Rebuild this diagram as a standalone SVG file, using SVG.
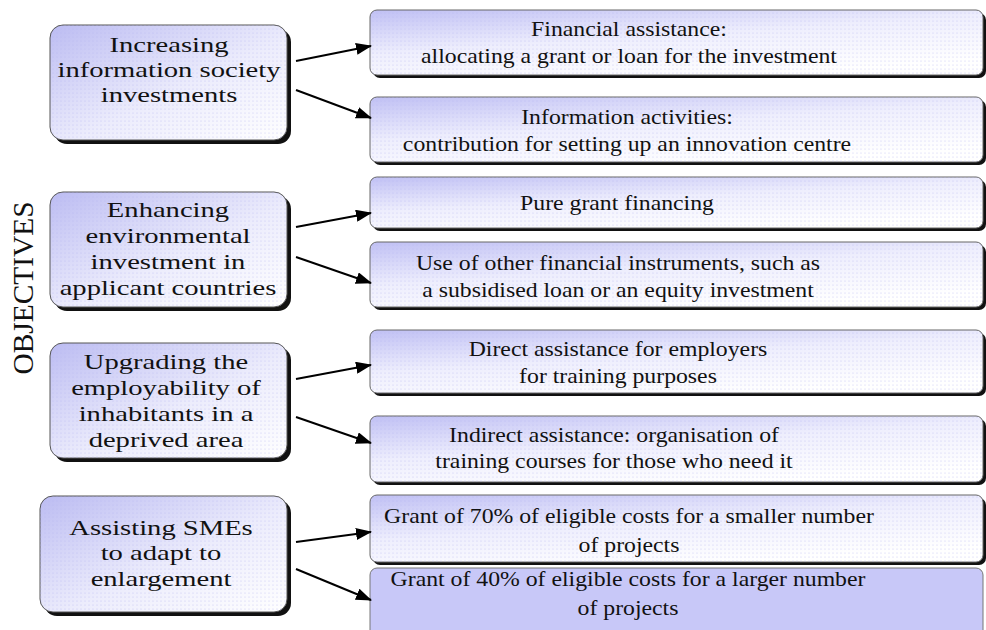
<svg xmlns="http://www.w3.org/2000/svg" width="986" height="630" viewBox="0 0 986 630">
<style>
  .t { font-family: "Liberation Serif", "Times New Roman", serif; font-size: 22px; fill: #111; text-anchor: middle; }
  .lbox { fill: url(#gradL); stroke: #555; stroke-width: 1; }
  .rbox { fill: url(#gradR); stroke: #666; stroke-width: 1; }
  .dots { fill: url(#dots); stroke: none; }
  .shadow { fill: #111; }
  .conn { stroke: #000; stroke-width: 2; fill: none; marker-end: url(#arr); }
</style>
<defs>
  <linearGradient id="gradL" x1="0" y1="0" x2="1" y2="1">
    <stop offset="0" stop-color="#bcbcf2"/>
    <stop offset="0.55" stop-color="#ececfc"/>
    <stop offset="1" stop-color="#ffffff"/>
  </linearGradient>
  <linearGradient id="gradR" x1="0" y1="0" x2="0.6" y2="1">
    <stop offset="0" stop-color="#c0c0f4"/>
    <stop offset="0.5" stop-color="#eeeefd"/>
    <stop offset="1" stop-color="#ffffff"/>
  </linearGradient>
  <pattern id="dots" width="4" height="4" patternUnits="userSpaceOnUse">
    <circle cx="1" cy="1" r="0.6" fill="#b4b4ee" opacity="0.7"/>
  </pattern>
  <marker id="arr" markerWidth="16" markerHeight="12" refX="15" refY="6" orient="auto" markerUnits="userSpaceOnUse">
    <path d="M0,0 L16,6 L0,12 Z" fill="#000"/>
  </marker>
</defs>
<rect width="986" height="630" fill="#ffffff"/>

<text class="t" transform="translate(33,288) rotate(-90)" x="0" y="0" style="font-size:30px" textLength="173" lengthAdjust="spacingAndGlyphs">OBJECTIVES</text>

<!-- Left objective nodes -->
<g id="obj1">
  <rect class="shadow" x="54" y="29" width="237" height="115" rx="13"/>
  <rect class="lbox" x="50" y="25" width="237" height="115" rx="13"/>
  <rect class="dots" x="50" y="25" width="237" height="115" rx="13"/>
  <g transform="translate(169,0) scale(1.3,1)">
    <text class="t" x="0" y="52">Increasing</text>
    <text class="t" x="0" y="77">information society</text>
    <text class="t" x="0" y="102">investments</text>
  </g>
</g>
<g id="obj2">
  <rect class="shadow" x="54" y="196" width="237" height="115" rx="13"/>
  <rect class="lbox" x="50" y="192" width="237" height="115" rx="13"/>
  <rect class="dots" x="50" y="192" width="237" height="115" rx="13"/>
  <g transform="translate(168,0) scale(1.3,1)">
    <text class="t" x="0" y="217">Enhancing</text>
    <text class="t" x="0" y="243">environmental</text>
    <text class="t" x="0" y="269">investment in</text>
    <text class="t" x="0" y="295">applicant countries</text>
  </g>
</g>
<g id="obj3">
  <rect class="shadow" x="54" y="347" width="237" height="115" rx="13"/>
  <rect class="lbox" x="50" y="343" width="237" height="115" rx="13"/>
  <rect class="dots" x="50" y="343" width="237" height="115" rx="13"/>
  <g transform="translate(166,0) scale(1.3,1)">
    <text class="t" x="0" y="369">Upgrading the</text>
    <text class="t" x="0" y="395">employability of</text>
    <text class="t" x="0" y="421">inhabitants in a</text>
    <text class="t" x="0" y="447">deprived area</text>
  </g>
</g>
<g id="obj4">
  <rect class="shadow" x="44" y="500" width="247" height="116" rx="13"/>
  <rect class="lbox" x="40" y="496" width="247" height="116" rx="13"/>
  <rect class="dots" x="40" y="496" width="247" height="116" rx="13"/>
  <g transform="translate(161,0) scale(1.3,1)">
    <text class="t" x="0" y="535">Assisting SMEs</text>
    <text class="t" x="0" y="560">to adapt to</text>
    <text class="t" x="0" y="586">enlargement</text>
  </g>
</g>

<!-- Right measure nodes -->
<g id="m1">
  <rect class="shadow" x="373" y="13" width="613" height="65" rx="7"/>
  <rect class="rbox" x="370" y="10" width="613" height="65" rx="7"/>
  <rect class="dots" x="370" y="10" width="613" height="65" rx="7"/>
  <g transform="translate(629,0) scale(1.08,1)">
    <text class="t" x="0" y="36">Financial assistance:</text>
    <text class="t" x="0" y="63">allocating a grant or loan for the investment</text>
  </g>
</g>
<g id="m2">
  <rect class="shadow" x="373" y="100" width="613" height="65" rx="7"/>
  <rect class="rbox" x="370" y="97" width="613" height="65" rx="7"/>
  <rect class="dots" x="370" y="97" width="613" height="65" rx="7"/>
  <g transform="translate(627,0) scale(1.08,1)">
    <text class="t" x="0" y="124">Information activities:</text>
    <text class="t" x="0" y="151">contribution for setting up an innovation centre</text>
  </g>
</g>
<g id="m3">
  <rect class="shadow" x="373" y="180" width="613" height="51" rx="7"/>
  <rect class="rbox" x="370" y="177" width="613" height="51" rx="7"/>
  <rect class="dots" x="370" y="177" width="613" height="51" rx="7"/>
  <g transform="translate(617,0) scale(1.08,1)">
    <text class="t" x="0" y="210">Pure grant financing</text>
  </g>
</g>
<g id="m4">
  <rect class="shadow" x="373" y="245" width="613" height="65" rx="7"/>
  <rect class="rbox" x="370" y="242" width="613" height="65" rx="7"/>
  <rect class="dots" x="370" y="242" width="613" height="65" rx="7"/>
  <g transform="translate(618,0) scale(1.08,1)">
    <text class="t" x="0" y="270">Use of other financial instruments, such as</text>
    <text class="t" x="0" y="297">a subsidised loan or an equity investment</text>
  </g>
</g>
<g id="m5">
  <rect class="shadow" x="373" y="333" width="613" height="63" rx="7"/>
  <rect class="rbox" x="370" y="330" width="613" height="63" rx="7"/>
  <rect class="dots" x="370" y="330" width="613" height="63" rx="7"/>
  <g transform="translate(618,0) scale(1.08,1)">
    <text class="t" x="0" y="356">Direct assistance for employers</text>
    <text class="t" x="0" y="383">for training purposes</text>
  </g>
</g>
<g id="m6">
  <rect class="shadow" x="373" y="419" width="613" height="66" rx="7"/>
  <rect class="rbox" x="370" y="416" width="613" height="66" rx="7"/>
  <rect class="dots" x="370" y="416" width="613" height="66" rx="7"/>
  <g transform="translate(614,0) scale(1.08,1)">
    <text class="t" x="0" y="442">Indirect assistance: organisation of</text>
    <text class="t" x="0" y="468">training courses for those who need it</text>
  </g>
</g>
<g id="m7">
  <rect class="shadow" x="373" y="498" width="613" height="67" rx="7"/>
  <rect class="rbox" x="370" y="495" width="613" height="67" rx="7"/>
  <rect class="dots" x="370" y="495" width="613" height="67" rx="7"/>
  <g transform="translate(629,0) scale(1.08,1)">
    <text class="t" x="0" y="523">Grant of 70% of eligible costs for a smaller number</text>
    <text class="t" x="0" y="552">of projects</text>
  </g>
</g>
<g id="m8">
  <rect x="370" y="568" width="613" height="72" rx="7" fill="#c8c8f8" stroke="#777" stroke-width="1"/>
  <g transform="translate(628,0) scale(1.08,1)">
    <text class="t" x="0" y="586">Grant of 40% of eligible costs for a larger number</text>
    <text class="t" x="0" y="615">of projects</text>
  </g>
</g>

<!-- Connectors -->
<g id="connectors">
  <line class="conn" x1="296" y1="61" x2="371" y2="46"/>
  <line class="conn" x1="296" y1="90" x2="371" y2="118"/>
  <line class="conn" x1="296" y1="227" x2="371" y2="213"/>
  <line class="conn" x1="296" y1="257" x2="371" y2="283"/>
  <line class="conn" x1="296" y1="379" x2="371" y2="365"/>
  <line class="conn" x1="296" y1="417" x2="371" y2="443"/>
  <line class="conn" x1="296" y1="542" x2="371" y2="532"/>
  <line class="conn" x1="296" y1="569" x2="371" y2="600"/>
</g>
</svg>
